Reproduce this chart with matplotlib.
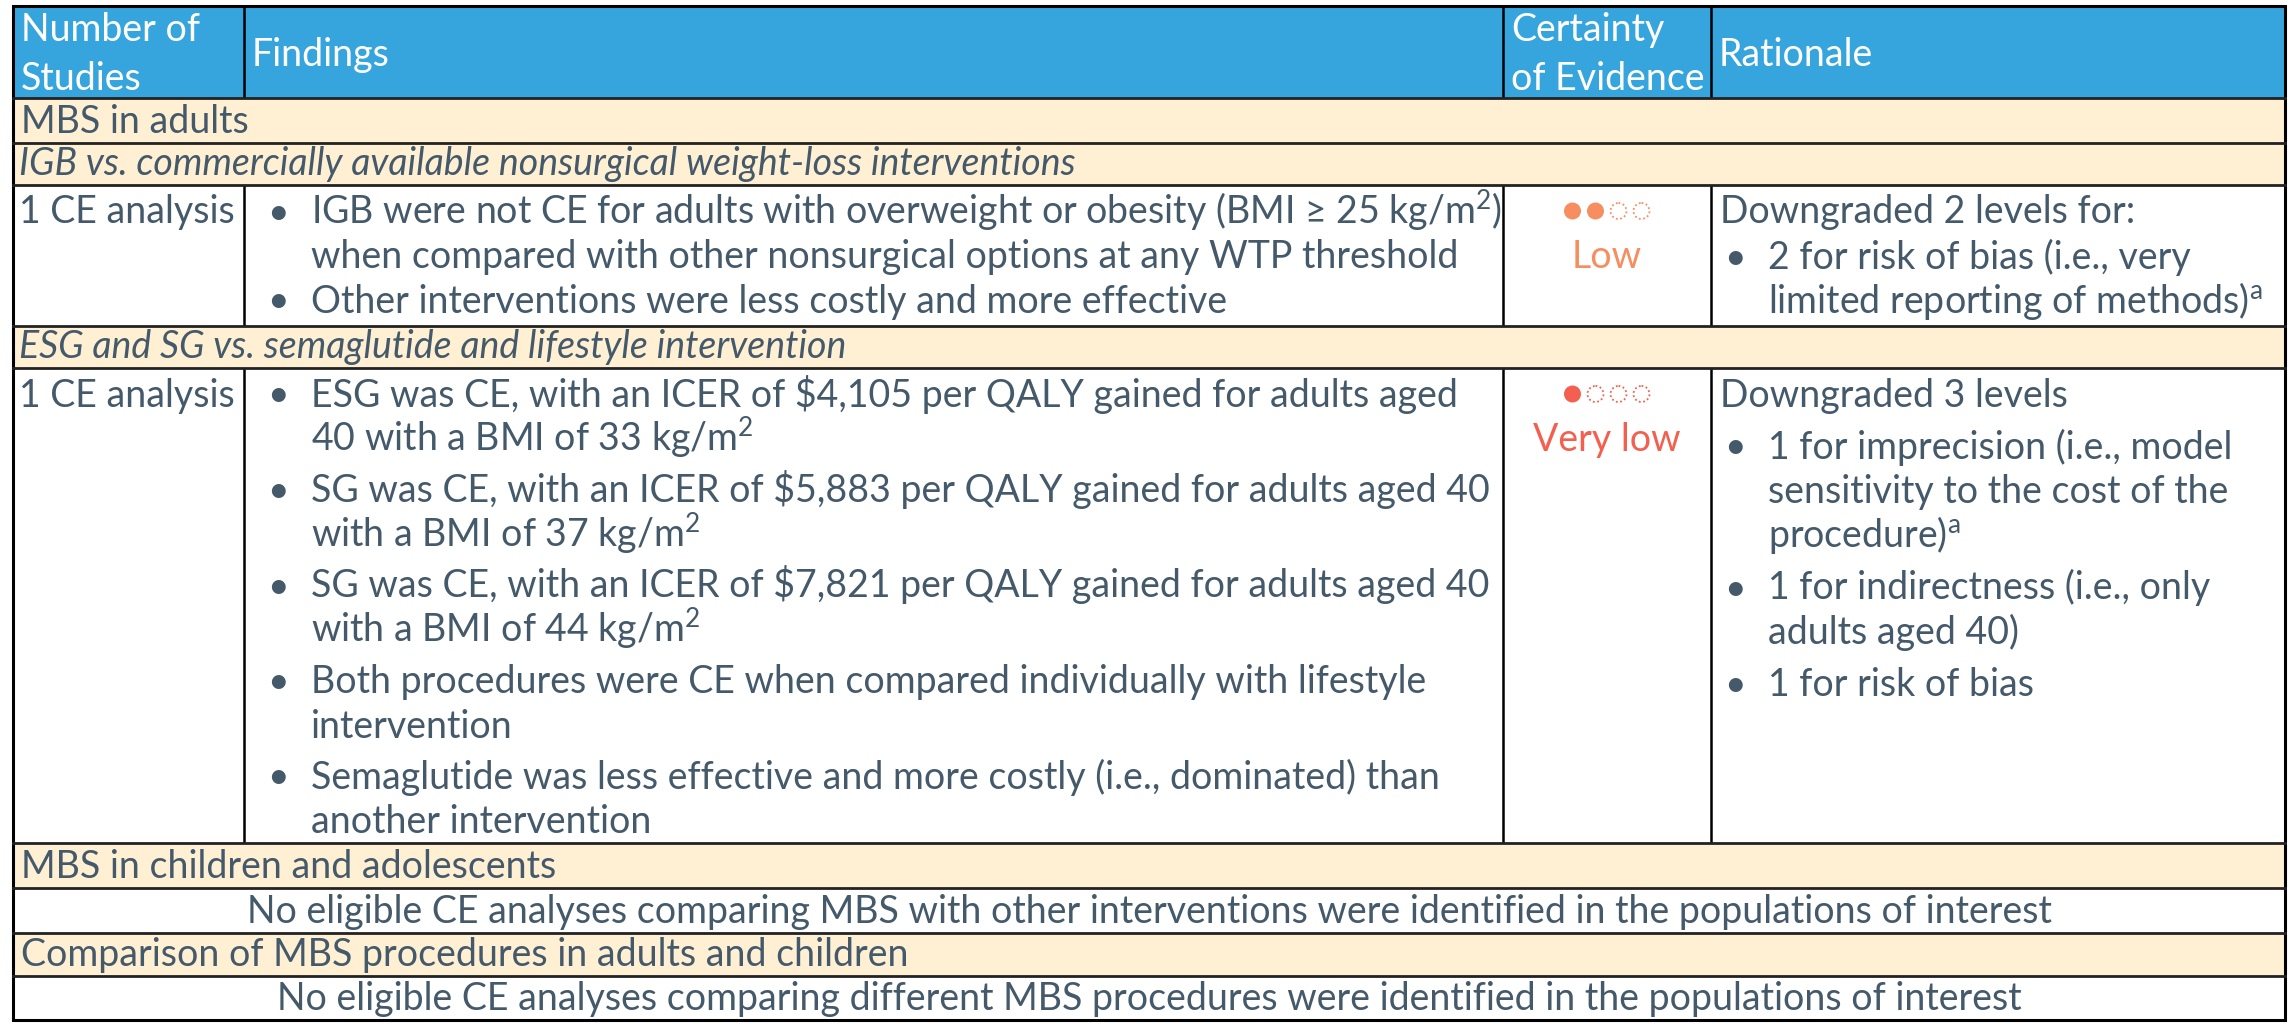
import matplotlib.pyplot as plt
from matplotlib.patches import Rectangle, Circle

plt.rcParams["font.family"] = ["Lato", "DejaVu Sans"]
plt.rcParams["mathtext.fontset"] = "custom"
plt.rcParams["mathtext.rm"] = "Lato"
plt.rcParams["mathtext.it"] = "Lato:italic"

# ---- table content ----
headers = [["Number of", "Studies"], ["Findings"], ["Certainty", "of Evidence"], ["Rationale"]]

section_titles = [
    "MBS in adults",
    "MBS in children and adolescents",
    "Comparison of MBS procedures in adults and children",
]
comparisons = [
    "IGB vs. commercially available nonsurgical weight-loss interventions",
    "ESG and SG vs. semaglutide and lifestyle intervention",
]
study_counts = ["1 CE analysis", "1 CE analysis"]
findings = [
    [
        ["IGB were not CE for adults with overweight or obesity (BMI \u2265 25 kg/m$^{2}$)",
         "when compared with other nonsurgical options at any WTP threshold"],
        ["Other interventions were less costly and more effective"],
    ],
    [
        ["ESG was CE, with an ICER of \\$4,105 per QALY gained for adults aged",
         "40 with a BMI of 33 kg/m$^{2}$"],
        ["SG was CE, with an ICER of \\$5,883 per QALY gained for adults aged 40",
         "with a BMI of 37 kg/m$^{2}$"],
        ["SG was CE, with an ICER of \\$7,821 per QALY gained for adults aged 40",
         "with a BMI of 44 kg/m$^{2}$"],
        ["Both procedures were CE when compared individually with lifestyle",
         "intervention"],
        ["Semaglutide was less effective and more costly (i.e., dominated) than",
         "another intervention"],
    ],
]
certainty_labels = ["Low", "Very low"]
certainty_filled = [2, 1]
certainty_colors = ["#F68E5F", "#F4604F"]
rationale_intro = ["Downgraded 2 levels for:", "Downgraded 3 levels"]
rationale_bullets = [
    [["2 for risk of bias (i.e., very", "limited reporting of methods)$^{\\mathrm{a}}$"]],
    [
        ["1 for imprecision (i.e., model", "sensitivity to the cost of the",
         "procedure)$^{\\mathrm{a}}$"],
        ["1 for indirectness (i.e., only", "adults aged 40)"],
        ["1 for risk of bias"],
    ],
]
no_evidence_notes = [
    "No eligible CE analyses comparing MBS with other interventions were identified in the populations of interest",
    "No eligible CE analyses comparing different MBS procedures were identified in the populations of interest",
]

# ---- layout (pixels) ----
W, H = 2290, 1024
col_x = [13, 244, 1503, 1711, 2285]
row_y = [6, 98, 143, 185, 326, 368, 843, 888, 933, 976, 1020]
row_kind = ["header", "section", "comparison", "body", "comparison", "body",
            "section", "note", "section", "note"]

FS = 27
HFS = 27
LINE = 44.5
TEXT = "#44596A"
HEAD_BG = "#37A5DD"
CREAM = "#FFF0D4"

fig = plt.figure(figsize=(W / 100, H / 100), dpi=100)
ax = fig.add_axes([0, 0, 1, 1])
ax.set_xlim(0, W)
ax.set_ylim(H, 0)
ax.axis("off")


def put(x, y, s, **kw):
    kw.setdefault("color", TEXT)
    kw.setdefault("fontsize", FS)
    kw.setdefault("va", "baseline")
    ax.text(x, y, s, **kw)


def bullet_block(x_text, y, intro, bullets, gap):
    if intro:
        put(x_text - 48, y, intro)
        y += LINE + gap
    for i, lines in enumerate(bullets):
        if i > 0:
            y += gap
        put(x_text - 33, y, "\u2022", ha="center")
        for ln in lines:
            put(x_text, y, ln)
            y += LINE


sec_i = comp_i = body_i = note_i = 0
for r, kind in enumerate(row_kind):
    top, bot = row_y[r], row_y[r + 1]
    if kind == "header":
        ax.add_patch(Rectangle((col_x[0], top), col_x[-1] - col_x[0], bot - top,
                               facecolor=HEAD_BG, edgecolor="none"))
        for c, lines in enumerate(headers):
            x = col_x[c] + 8
            if len(lines) == 2:
                put(x, top + 35, lines[0], color="white", fontsize=HFS)
                put(x, top + 84, lines[1], color="white", fontsize=HFS)
            else:
                put(x, top + 60, lines[0], color="white", fontsize=HFS)
    elif kind in ("section", "comparison"):
        ax.add_patch(Rectangle((col_x[0], top), col_x[-1] - col_x[0], bot - top,
                               facecolor=CREAM, edgecolor="none"))
        if kind == "section":
            put(col_x[0] + 8, bot - 10, section_titles[sec_i])
            sec_i += 1
        else:
            put(col_x[0] + 6, bot - 10, comparisons[comp_i], style="italic")
            comp_i += 1
    elif kind == "note":
        put((col_x[0] + col_x[-1]) / 2, bot - 10, no_evidence_notes[note_i], ha="center")
        note_i += 1
    else:
        b = body_i
        y0 = top + 38.5
        gap = 0 if b == 0 else 6.5
        put(col_x[0] + 6, y0, study_counts[b])
        bullet_block(col_x[1] + 67, y0, None, findings[b], gap)
        cx = (col_x[2] + col_x[3]) / 2
        col = certainty_colors[b]
        for k in range(4):
            px = cx - 34.5 + k * 23
            if k < certainty_filled[b]:
                ax.add_patch(Circle((px, top + 26), 8.5, facecolor=col, edgecolor="none"))
            else:
                ax.add_patch(Circle((px, top + 26), 8.0, facecolor="none", edgecolor=col,
                                    lw=1.3, linestyle=(0, (1, 1.4))))
        put(cx, y0 + LINE, certainty_labels[b], ha="center", color=col)
        bullet_block(col_x[3] + 57, y0, rationale_intro[b], rationale_bullets[b], gap + 1)
        for c in col_x[1:-1]:
            ax.plot([c, c], [top, bot], color="black", lw=1.8, solid_capstyle="butt")
        body_i += 1

# header column dividers
for c in col_x[1:-1]:
    ax.plot([c, c], [row_y[0], row_y[1]], color="black", lw=1.8, solid_capstyle="butt")
# horizontal rules
for y in row_y[1:-1]:
    ax.plot([col_x[0], col_x[-1]], [y, y], color="#222222", lw=2.0)
# outer frame
ax.add_patch(Rectangle((col_x[0], row_y[0]), col_x[-1] - col_x[0], row_y[-1] - row_y[0],
                       facecolor="none", edgecolor="black", lw=2.2))

fig.savefig("out.png", dpi=100)
